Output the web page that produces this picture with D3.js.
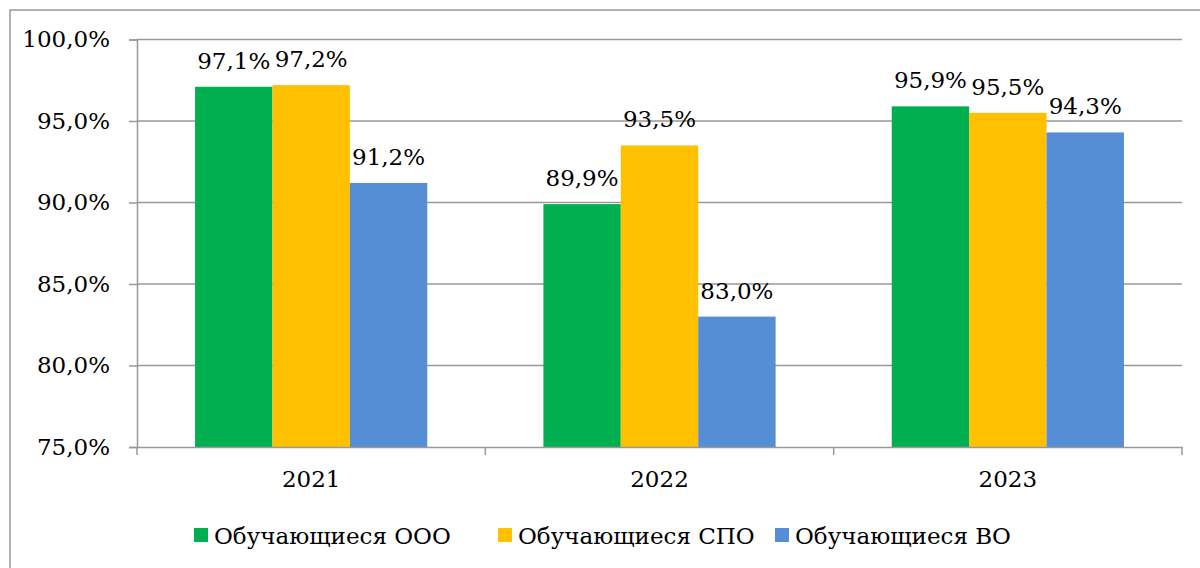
<!DOCTYPE html>
<html>
<head>
<meta charset="utf-8">
<script src="https://cdn.jsdelivr.net/npm/d3@7"></script>
<style>
  body { margin: 0; background: #fff; }
  svg text { font-family: "DejaVu Serif", serif; fill: #000; }
</style>
</head>
<body>
<div id="chart"></div>
<script>
let years = ['2021', '2022', '2023'];
let seriesNames = ['Обучающиеся ООО', 'Обучающиеся СПО', 'Обучающиеся ВО'];
let ooo = [97.1, 89.9, 95.9];
let spo = [97.2, 93.5, 95.5];
let vo = [91.2, 83.0, 94.3];
let yTicks = [75, 80, 85, 90, 95, 100];

let colors = ['#00B050', '#FFC000', '#558ED5'];
let series = [ooo, spo, vo];

let chart_width = 1200;
let chart_height = 568;
let plotLeft = 137, plotRight = 1182, plotTop = 39.5, plotBottom = 447;
let fontSize = 23;

let fmt = function(v) {
    return d3.format('.1f')(v).replace('.', ',') + '%';
};

let svg = d3.select('#chart')
    .append('svg')
    .attr('width', chart_width)
    .attr('height', chart_height);

// outer frame
svg.append('rect')
    .attr('x', 10).attr('y', 10)
    .attr('width', 1210).attr('height', 600)
    .attr('fill', 'none')
    .attr('stroke', '#999')
    .attr('stroke-width', 1.5);

let xScale = d3.scaleBand()
    .domain(years)
    .range([plotLeft, plotRight]);

let inner = d3.scaleBand()
    .domain([0, 1, 2])
    .range([0, xScale.bandwidth()])
    .paddingOuter(0.75)
    .paddingInner(0);

let yScale = d3.scaleLinear()
    .domain([75, 100])
    .range([plotBottom, plotTop]);

// gridlines
svg.append('g')
    .selectAll('line')
    .data(yTicks.slice(1))
    .enter()
    .append('line')
    .attr('x1', plotLeft).attr('x2', plotRight)
    .attr('y1', d => yScale(d)).attr('y2', d => yScale(d))
    .attr('stroke', '#999')
    .attr('stroke-width', 1.5);

// y axis
let yAxis = d3.axisLeft(yScale)
    .tickValues(yTicks)
    .tickSize(8)
    .tickPadding(19)
    .tickFormat(fmt);

let yg = svg.append('g')
    .attr('transform', 'translate(' + plotLeft + ',0)')
    .call(yAxis)
    .attr('font-family', null);
yg.select('.domain').attr('stroke', '#999').attr('stroke-width', 1.5);
yg.selectAll('.tick line').attr('stroke', '#999').attr('stroke-width', 1.5);
yg.selectAll('.tick text').attr('font-size', fontSize);

// bars
let groups = svg.append('g')
    .selectAll('g')
    .data(series)
    .enter()
    .append('g')
    .attr('fill', (d, i) => colors[i]);

groups.each(function(vals, si) {
    let g = d3.select(this);
    g.selectAll('rect')
        .data(vals)
        .enter()
        .append('rect')
        .attr('x', (d, i) => xScale(years[i]) + inner(si))
        .attr('width', inner.bandwidth())
        .attr('y', d => yScale(d))
        .attr('height', d => yScale(75) - yScale(d));

    g.selectAll('text')
        .data(vals)
        .enter()
        .append('text')
        .attr('x', (d, i) => xScale(years[i]) + inner(si) + inner.bandwidth() / 2)
        .attr('y', d => yScale(d) - 18)
        .attr('text-anchor', 'middle')
        .attr('font-size', fontSize)
        .text(d => fmt(d));
});

// x axis
let xAxis = d3.axisBottom(xScale)
    .tickSize(0)
    .tickPadding(24);

let xg = svg.append('g')
    .attr('transform', 'translate(0,' + plotBottom + ')')
    .call(xAxis)
    .attr('font-family', null);
xg.select('.domain').attr('stroke', '#999').attr('stroke-width', 1.5);
xg.selectAll('.tick text').attr('font-size', fontSize);

// category separators
svg.append('g')
    .selectAll('line')
    .data([plotLeft, xScale('2022'), xScale('2023'), plotRight])
    .enter()
    .append('line')
    .attr('x1', d => d).attr('x2', d => d)
    .attr('y1', plotBottom).attr('y2', plotBottom + 8)
    .attr('stroke', '#999')
    .attr('stroke-width', 1.5);

// legend
let legendX = [194, 498, 775];
let legend = svg.append('g')
    .selectAll('g')
    .data(seriesNames)
    .enter()
    .append('g')
    .attr('transform', (d, i) => 'translate(' + legendX[i] + ',528)');

legend.append('rect')
    .attr('width', 14).attr('height', 14)
    .attr('fill', (d, i) => colors[i]);

legend.append('text')
    .attr('x', 20)
    .attr('y', 16)
    .attr('font-size', fontSize)
    .text(d => d);
</script>
</body>
</html>
